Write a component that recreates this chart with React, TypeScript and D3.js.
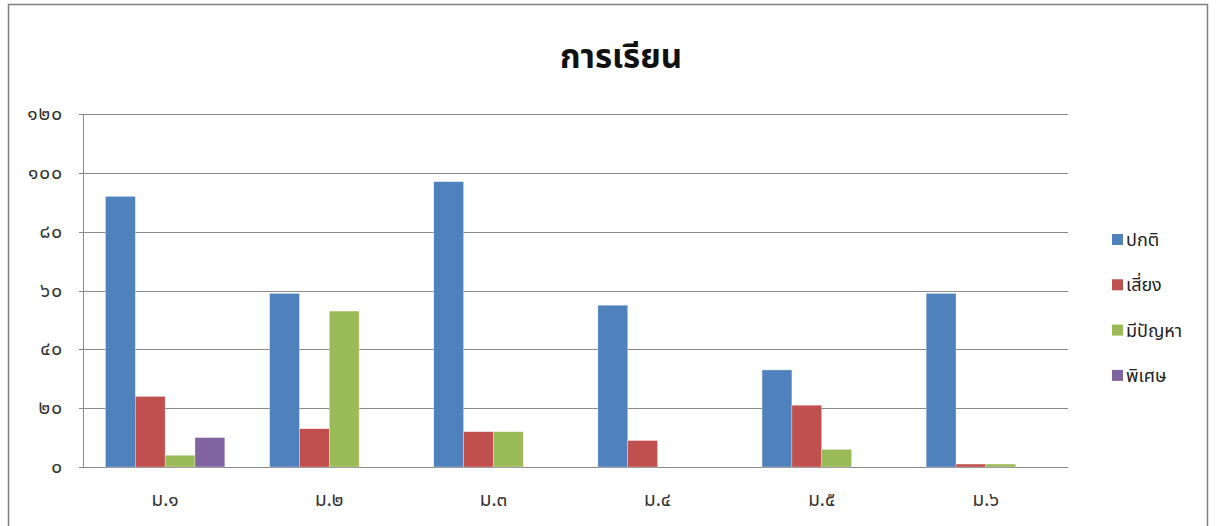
import { useEffect, useRef } from 'react'
import * as d3 from 'd3'

const CATEGORIES = ['ม.๑', 'ม.๒', 'ม.๓', 'ม.๔', 'ม.๕', 'ม.๖']
const SERIES = ['ปกติ', 'เสี่ยง', 'มีปัญหา', 'พิเศษ']
const COLORS = ['#4f81bd', '#c0504d', '#9bbb59', '#8064a2']
const NORMAL = [92, 59, 97, 55, 33, 59]
const RISK = [24, 13, 12, 9, 21, 1]
const PROBLEM = [4, 53, 12, 0, 6, 1]
const SPECIAL = [10, 0, 0, 0, 0, 0]
const Y_TICKS = [0, 20, 40, 60, 80, 100, 120]
const THAI_DIGITS = ['๐', '๑', '๒', '๓', '๔', '๕', '๖', '๗', '๘', '๙']

const toThai = (n: number) => String(n).replace(/[0-9]/g, d => THAI_DIGITS[+d])

export default function App() {
  const svgRef = useRef<SVGSVGElement>(null)

  useEffect(() => {
    if (!svgRef.current) return
    const W = 1216, H = 526
    const svg = d3.select(svgRef.current).attr('viewBox', `0 0 ${W} ${H}`)
    svg.selectAll('*').remove()
    const font = "Tahoma, 'Noto Sans Thai', 'DejaVu Sans', sans-serif"

    // outer frame
    svg.append('rect').attr('x', 8.5).attr('y', 4.5).attr('width', W - 17).attr('height', H + 10)
      .attr('fill', 'white').attr('stroke', '#808080').attr('stroke-width', 1.5)

    const left = 83, right = 1068, top = 114, bottom = 467
    const values = [NORMAL, RISK, PROBLEM, SPECIAL]

    const x = d3.scaleBand().domain(CATEGORIES).range([left, right]).paddingInner(0.273).paddingOuter(0.137)
    const xs = d3.scaleBand().domain(SERIES).range([0, x.bandwidth()])
    const y = d3.scaleLinear().domain([0, 120]).range([bottom, top])

    // gridlines
    svg.append('g').selectAll('line').data(Y_TICKS).join('line')
      .attr('x1', left - 4).attr('x2', right)
      .attr('y1', d => Math.round(y(d)) + 0.5).attr('y2', d => Math.round(y(d)) + 0.5)
      .attr('stroke', '#8a8a8a').attr('stroke-width', 1)

    // y axis line
    svg.append('line').attr('x1', left + 0.5).attr('x2', left + 0.5).attr('y1', top).attr('y2', bottom)
      .attr('stroke', '#8a8a8a')

    // y labels
    svg.append('g').selectAll('text').data(Y_TICKS).join('text')
      .attr('x', 63).attr('y', d => y(d) + 6).attr('text-anchor', 'end')
      .attr('font-family', font).attr('font-size', 19).attr('letter-spacing', 1).attr('fill', '#333')
      .text(d => toThai(d))

    // bars
    SERIES.forEach((s, si) => {
      svg.append('g').selectAll('rect').data(values[si]).join('rect')
        .attr('x', (_, i) => (x(CATEGORIES[i]) ?? 0) + (xs(s) ?? 0))
        .attr('y', d => y(d))
        .attr('width', xs.bandwidth())
        .attr('height', d => bottom - y(d))
        .attr('fill', COLORS[si])
        .attr('stroke', d => (d > 0 ? 'rgba(255,255,255,0.5)' : 'none')).attr('stroke-width', 0.6)
    })

    // category labels
    svg.append('g').selectAll('text').data(CATEGORIES).join('text')
      .attr('x', d => (x(d) ?? 0) + x.bandwidth() / 2).attr('y', 506).attr('text-anchor', 'middle')
      .attr('font-family', font).attr('font-size', 19).attr('fill', '#333')
      .text(d => d)

    // title
    svg.append('text').attr('x', 621).attr('y', 68).attr('text-anchor', 'middle')
      .attr('font-family', font).attr('font-size', 33).attr('font-weight', 'bold').attr('fill', '#111')
      .text('การเรียน')

    // legend
    const lg = svg.append('g').selectAll('g').data(SERIES).join('g')
      .attr('transform', (_, i) => `translate(1112, ${240 + i * 45.3})`)
    lg.append('rect').attr('x', 0).attr('y', -6).attr('width', 11).attr('height', 11)
      .attr('fill', (_, i) => COLORS[i])
    lg.append('text').attr('x', 14).attr('y', 6).attr('font-family', font).attr('font-size', 18)
      .attr('fill', '#222').text(d => d)
  }, [])

  return (
    <svg ref={svgRef} width={1216} height={526}
      style={{ position: 'absolute', left: 0, top: 0, display: 'block' }} />
  )
}
